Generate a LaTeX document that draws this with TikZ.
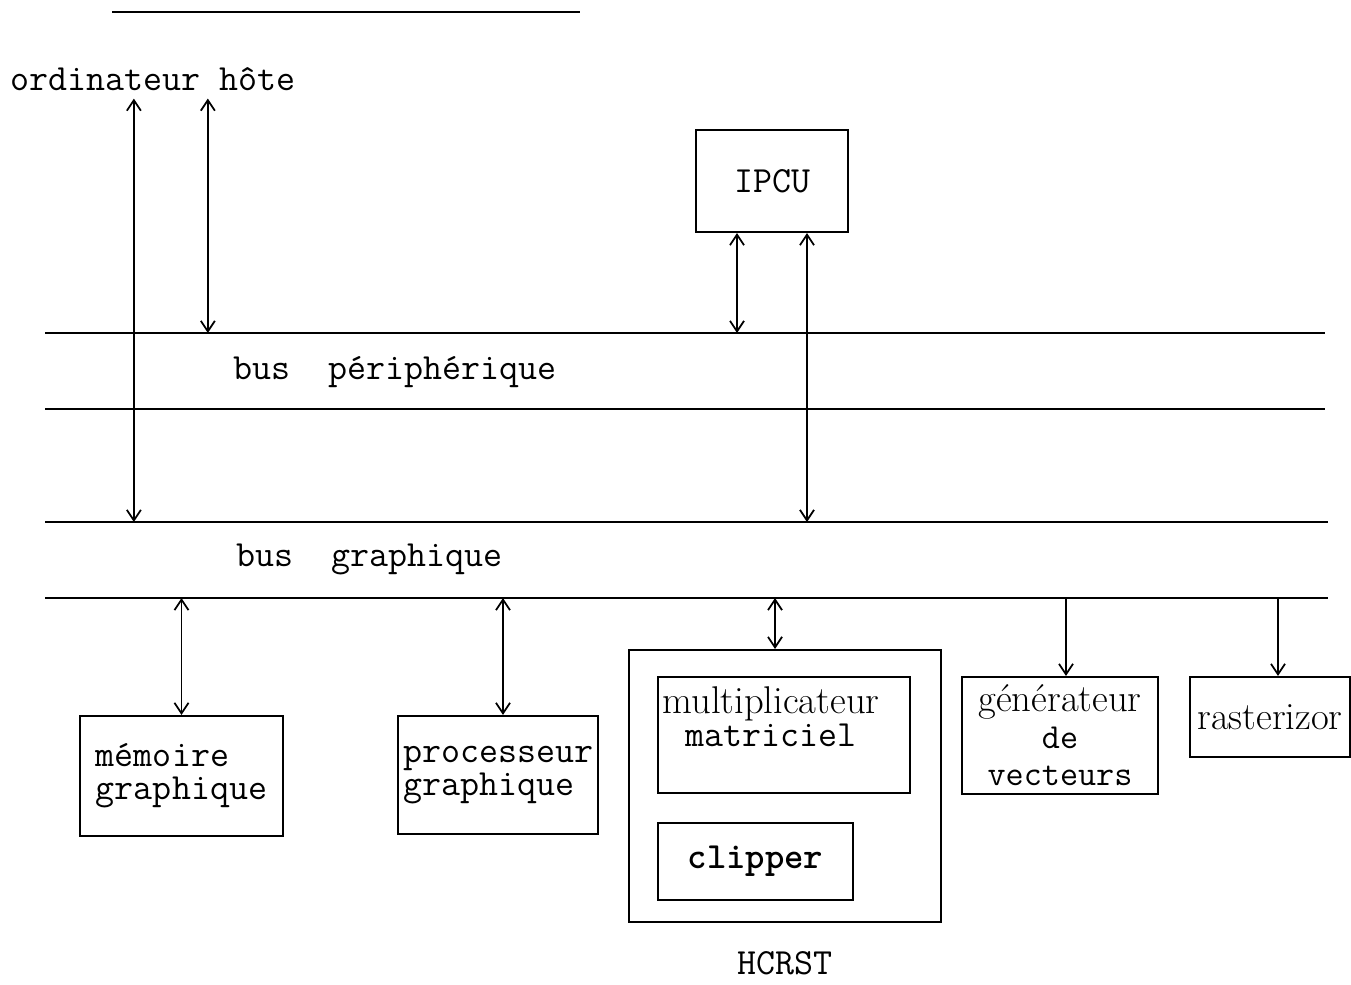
\documentclass[tikz,border=0pt]{standalone}
\usetikzlibrary{arrows.meta,positioning}
\newcommand{\tw}{\fontsize{21}{19}\selectfont\ttfamily}
\newcommand{\rw}{\fontsize{22}{19}\selectfont\rmfamily}
\tikzset{
  box/.style={draw, line width=1.2pt, inner sep=0pt, align=left},
  bus/.style={line width=1.1pt},
  both/.style={line width=1pt, {Straight Barb[length=6pt,width=8pt]}-{Straight Barb[length=6pt,width=8pt]}},
  down/.style={line width=1pt, -{Straight Barb[length=6pt,width=8pt]}}
}
\begin{document}
\begin{tikzpicture}[x=0.02cm, y=-0.02cm, font=\tw]
\useasboundingbox (0,0) rectangle (1351,984);
\coordinate (tl) at (112,12);
\coordinate (tr) at (580,12);
\coordinate (pt) at (45,333);
\coordinate (ptr) at (1325,333);
\coordinate (pb) at (45,409);
\coordinate (pbr) at (1325,409);
\coordinate (gt) at (45,522);
\coordinate (gtr) at (1328,522);
\coordinate (gb) at (45,598);
\coordinate (gbr) at (1328,598);
\draw [bus] (tl) -- (tr);
\draw [bus] (pt) -- (ptr);
\draw [bus] (pb) -- (pbr);
\draw [bus] (gt) -- (gtr);
\draw [bus] (gb) -- (gbr);
\node [anchor=base west, inner sep=0pt] (host) at (10,90) {ordinateur hôte};
\node [anchor=base west, inner sep=0pt] (pbus) at (233,379) {bus\ \ périphérique};
\node [anchor=base west, inner sep=0pt] (gbus) at (236,566) {bus\ \ graphique};
\node [box, minimum width=3.04cm, minimum height=2.04cm] (ipcu) at (772,181) {IPCU};
\node [box, minimum width=4.06cm, minimum height=2.4cm] (mem) at (181.5,776) {mémoire\\graphique};
\node [box, minimum width=4cm, minimum height=2.36cm] (proc) at (498,775) {processeur\\graphique};
\node [box, minimum width=6.24cm, minimum height=5.44cm] (hcrst) at (785,786) {};
\node [box, minimum width=5.04cm, minimum height=2.32cm] (mult) at (784,735) {};
\node [anchor=north, inner sep=0pt, align=center, font=\fontsize{21}{19}\selectfont\ttfamily] (multtxt) at ([xshift=-0.26cm,yshift=-0.2cm]mult.north) {{\rw multiplicateur}\\matriciel};
\node [box, minimum width=3.9cm, minimum height=1.54cm, font=\tw\bfseries] (clip) at (755.5,861.5) {clipper};
\node [below=0.45cm of hcrst] (hcrsttxt) {HCRST};
\node [box, minimum width=3.92cm, minimum height=2.34cm, align=center, font=\fontsize{20}{18}\selectfont\ttfamily] (gen) at (1060,735.5) {{\rw générateur}\\[3pt]de\\[3pt]vecteurs};
\node [box, minimum width=3.2cm, minimum height=1.6cm, font=\rw] (rast) at (1270,717) {rasterizor};
\coordinate (h1) at ([xshift=-0.38cm,yshift=-0.16cm]host.south);
\coordinate (h2) at ([xshift=1.1cm,yshift=-0.16cm]host.south);
\coordinate (i1) at ([xshift=-0.7cm]ipcu.south);
\coordinate (i2) at ([xshift=0.7cm]ipcu.south);
\coordinate (p1) at ([xshift=0.1cm]proc.north);
\coordinate (c1) at ([xshift=-0.2cm]hcrst.north);
\coordinate (g1) at ([xshift=0.12cm]gen.north);
\coordinate (r1) at ([xshift=0.16cm]rast.north);
\draw [both] (h1) -- (h1 |- gt);
\draw [both] (h2) -- (h2 |- pt);
\draw [both] (i1) -- (i1 |- pt);
\draw [both] (i2) -- (i2 |- gt);
\draw [both] (mem.north) -- (mem.north |- gb);
\draw [both] (p1) -- (p1 |- gb);
\draw [both] (c1) -- (c1 |- gb);
\draw [down] (g1 |- gb) -- (g1);
\draw [down] (r1 |- gb) -- (r1);
\end{tikzpicture}
\end{document}
